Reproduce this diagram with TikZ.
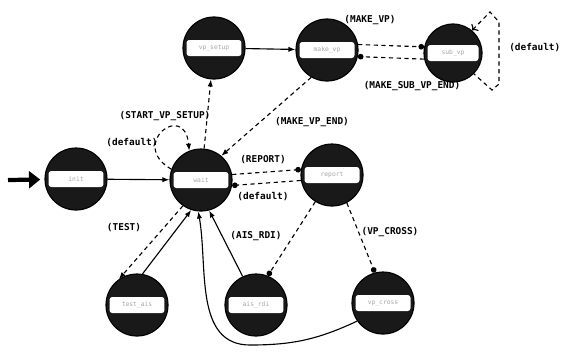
\documentclass[tikz,border=0pt]{standalone}
\usepackage{fontspec}
\setmonofont{DejaVu Sans Mono}
\usetikzlibrary{positioning, arrows.meta}

\begin{document}
\begin{tikzpicture}[x=0.025cm, y=-0.025cm]
    % Stili per stati ed etichette
    \tikzset{
        state/.style={
            circle,
            draw=black,
            thick,
            fill=black!90,
            minimum size=1.55cm,
            inner sep=0pt,
            font=\fontsize{4.5}{5}\ttfamily\color{black!35},
            path picture={
                \fill[white, rounded corners=2pt]
                    ([shift={(2.5pt,-0.2cm)}]path picture bounding box.west) rectangle
                    ([shift={(-2.5pt,0.2cm)}]path picture bounding box.east);
            }
        },
        lbl/.style={font=\fontsize{6.7}{8}\ttfamily\bfseries, inner sep=1pt},
        go/.style={thick, -{Latex[length=5pt]}},
        trans/.style={thick, dash pattern=on 3pt off 2.5pt, -{Latex[length=5pt]}},
        transdot/.style={thick, dash pattern=on 3pt off 2.5pt, -{Circle[length=4pt]}}
    }

    % margini
    \useasboundingbox (0,0) rectangle (563,351);

    % --- Stati ---
    \node[state] (init) at (76,179) {init};
    \node[state] (wait) at (201,180) {wait};
    \node[state] (report) at (332,175) {report};
    \node[state] (vpsetup) at (214,48) {vp\_setup};
    \node[state] (makevp) at (327,50) {make\_vp};
    \node[state, minimum size=1.45cm] (subvp) at (453,53) {sub\_vp};
    \node[state] (test) at (137,305) {test\_ais};
    \node[state] (aisrdi) at (256,305) {ais\_rdi};
    \node[state] (vpcross) at (383,303) {vp\_cross};

    % Freccia iniziale
    \coordinate (start) at (8,180);
    \draw[line width=3pt, -{Triangle[length=8pt, width=12pt]}, shorten >=3pt] (start) -- (init);

    % --- Transizioni ---
    \draw[go] (init) -- (wait);
    \draw[trans] (wait) -- (vpsetup);
    \draw[go] (vpsetup) -- (makevp);
    \draw[transdot] (makevp.10) -- (subvp.168);
    \draw[transdot] (subvp.-168) -- (makevp.-12);
    \draw[trans] (makevp.240) -- (wait.50);
    \draw[trans] (wait.160) to[out=150, in=95, looseness=5] (wait.112);
    \draw[transdot] (wait.10) -- (report.170);
    \draw[transdot] (report.-170) -- (wait.-10);
    \draw[trans] (wait.235) -- (test.125);
    \draw[go] (test.80) -- (wait.252);
    \draw[go] (aisrdi.115) -- (wait.285);
    \draw[go] (vpcross.215) to[out=205, in=0] (250,345) to[out=180, in=-80] (wait.265);
    \draw[transdot] (report.238) -- (aisrdi.68);
    \draw[transdot] (report.-62) -- (vpcross.105);
    \draw[trans, <-] (subvp.50) -- (490,12) -- (499,22) -- (499,84) -- (492,90) -- (subvp.-45);

    % --- Etichette ---
    \node[lbl] (lmakevp) at (370,20) {(MAKE\_VP)};
    \node[lbl] (lsubend) at (412,86) {(MAKE\_SUB\_VP\_END)};
    \node[lbl, anchor=east] (lsubdef) at (562,48) {(default)};
    \node[lbl] (lstart) at (165,116) {(START\_VP\_SETUP)};
    \node[lbl] (lmakeend) at (312,122) {(MAKE\_VP\_END)};
    \node[lbl] (lwaitdef) at (132,143) {(default)};
    \node[lbl] (lreport) at (263,160) {(REPORT)};
    \node[lbl] (lrepdef) at (263,197) {(default)};
    \node[lbl] (ltest) at (124,228) {(TEST)};
    \node[lbl] (lais) at (256,236) {(AIS\_RDI)};
    \node[lbl] (lcross) at (390,232) {(VP\_CROSS)};

\end{tikzpicture}
\end{document}
